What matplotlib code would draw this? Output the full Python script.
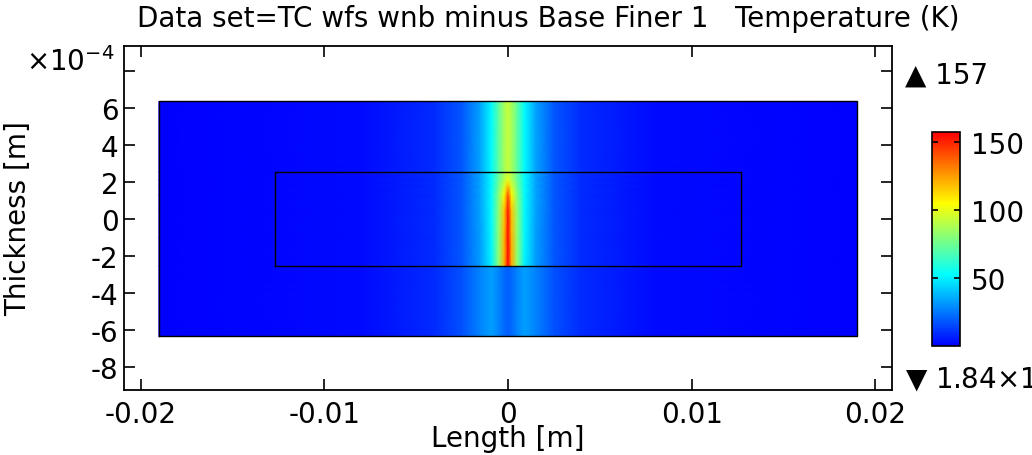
import numpy as np
import matplotlib
matplotlib.use("Agg")
import matplotlib.pyplot as plt
from matplotlib.colors import LinearSegmentedColormap, Normalize

# geometry of the two domains (m)
OUTER_X = [-0.019, 0.019]
OUTER_Y = [-6.35e-4, 6.35e-4]
INNER_X = [-0.0127, 0.0127]
INNER_Y = [-2.54e-4, 2.54e-4]

# sample positions along the length (m)
X_S = [-0.019, -0.008, -0.004, -0.0025, -0.0015, -0.0009, -0.0005, -0.0002, 0.0,
       0.0002, 0.0005, 0.0009, 0.0015, 0.0025, 0.004, 0.008, 0.019]

# temperature, top layer (above inner domain)
TOP_T = [0, 2, 9, 18, 34, 52, 72, 86, 92, 86, 72, 52, 34, 18, 9, 2, 0]
# bottom layer (below inner domain)
BOT_T = [0, 2, 9, 17, 27, 33, 27, 22, 20, 22, 27, 33, 27, 17, 9, 2, 0]

# middle layer, rows at these thickness positions
MID_Y = [-2.54e-4, -1.0e-4, 0.5e-4, 1.3e-4, 1.8e-4, 2.1e-4, 2.54e-4]
MID_T = [
    [0, 2, 9, 18, 33, 50, 82, 122, 155, 122, 82, 50, 33, 18, 9, 2, 0],
    [0, 2, 9, 18, 33, 51, 82, 120, 155, 120, 82, 51, 33, 18, 9, 2, 0],
    [0, 2, 9, 18, 34, 52, 82, 116, 152, 116, 82, 52, 34, 18, 9, 2, 0],
    [0, 2, 9, 18, 34, 52, 80, 106, 140, 106, 80, 52, 34, 18, 9, 2, 0],
    [0, 2, 9, 18, 34, 52, 76, 96, 116, 96, 76, 52, 34, 18, 9, 2, 0],
    [0, 2, 9, 18, 34, 52, 74, 90, 100, 90, 74, 52, 34, 18, 9, 2, 0],
    [0, 2, 9, 18, 34, 52, 72, 86, 92, 86, 72, 52, 34, 18, 9, 2, 0],
]

T_MIN = 0.00184
T_MAX = 157
CBAR_TICKS = [50, 100, 150]
X_TICKS = [-0.02, -0.01, 0, 0.01, 0.02]
X_LABELS = ["-0.02", "-0.01", "0", "0.01", "0.02"]
Y_TICKS = [-8, -6, -4, -2, 0, 2, 4, 6, 8]
Y_LABELS = ["-8", "-6", "-4", "-2", "0", "2", "4", "6", ""]

# comsol-ish rainbow
rainbow = LinearSegmentedColormap.from_list(
    "rainbow_c", [(0.0, (0, 0, 1)), (1/3, (0, 1, 1)), (0.5, (0.5, 1, 0.5)),
                  (2/3, (1, 1, 0)), (1.0, (1, 0, 0))])
norm = Normalize(vmin=T_MIN, vmax=T_MAX)

FS = 20
plt.rcParams["font.family"] = "DejaVu Sans"

fig = plt.figure(figsize=(10.32, 4.56), dpi=100)
ax = fig.add_axes([124/1032, 1 - 391/456, 768/1032, 344/456])

xs = np.array(X_S)
top = np.vstack([TOP_T, TOP_T])
gx, gy = np.meshgrid(xs, [INNER_Y[1], OUTER_Y[1]])
mesh = ax.pcolormesh(gx, gy * 1e4, top, shading="gouraud", cmap=rainbow, norm=norm)
bot = np.vstack([BOT_T, BOT_T])
gx, gy = np.meshgrid(xs, [OUTER_Y[0], INNER_Y[0]])
ax.pcolormesh(gx, gy * 1e4, bot, shading="gouraud", cmap=rainbow, norm=norm)
gx, gy = np.meshgrid(xs, MID_Y)
ax.pcolormesh(gx, gy * 1e4, np.array(MID_T), shading="gouraud", cmap=rainbow, norm=norm)

# domain outlines
for (x0, x1), (y0, y1) in [(OUTER_X, OUTER_Y), (INNER_X, INNER_Y)]:
    ax.plot([x0, x1, x1, x0, x0], np.array([y0, y0, y1, y1, y0]) * 1e4,
            color="black", lw=1.0)

ax.set_xlim(-0.0209, 0.0209)
ax.set_ylim(-9.25, 9.35)
ax.set_xticks(X_TICKS)
ax.set_xticklabels(X_LABELS)
ax.set_yticks(Y_TICKS)
ax.set_yticklabels(Y_LABELS)
ax.tick_params(direction="in", length=8, width=1.2, top=True, right=True,
               labelsize=FS, pad=4)
ax.tick_params(axis="x", pad=7)
for s in ax.spines.values():
    s.set_linewidth(1.3)
ax.set_xlabel("Length [m]", fontsize=FS, labelpad=-3)
ax.set_ylabel("Thickness [m]", fontsize=FS, labelpad=42)
fig.text(26/1032, 1 - 62/456, r"$\times$10$^{-4}$", fontsize=FS, ha="left", va="center")

fig.text(548/1032, 1 - 19/456, "Data set=TC wfs wnb minus Base Finer 1   Temperature (K)",
         fontsize=FS, ha="center", va="center")

# colour bar
cax = fig.add_axes([932/1032, 1 - 347/456, 28/1032, 214/456])
cb = fig.colorbar(mesh, cax=cax, ticks=CBAR_TICKS)
cb.outline.set_linewidth(1.2)
cax.tick_params(direction="in", length=4, width=1.2, left=True, right=True,
                labelsize=FS, pad=8)

fig.text(905/1032, 1 - 76/456, "\u25b2 157", fontsize=FS, ha="left", va="center")
fig.text(905/1032, 1 - 378/456, "\u25bc 1.84\u00d710$^{-3}$", fontsize=FS,
         ha="left", va="center")

fig.savefig("out.png", dpi=100)
